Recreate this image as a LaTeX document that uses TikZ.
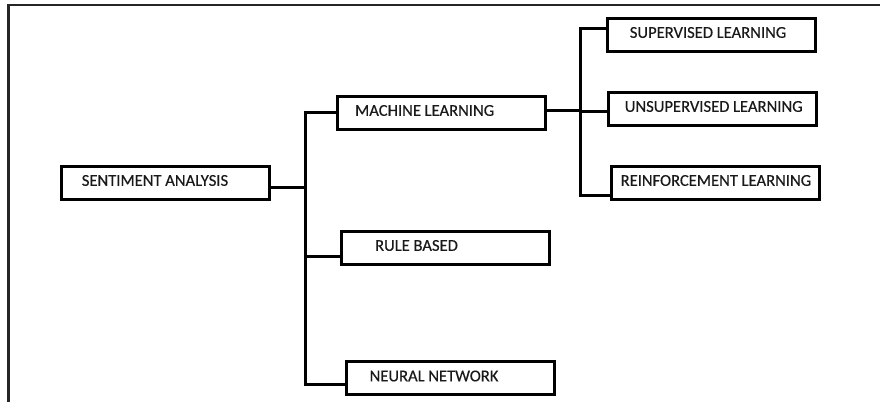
\documentclass[tikz,border=0pt]{standalone}
\usepackage{fontspec}
\setmainfont{Carlito}[FakeBold=0.4]
\usetikzlibrary{positioning,calc}
\newcommand{\boxfont}{\fontsize{11.8}{14}\selectfont\spaceskip=2.6pt\relax}

\begin{document}
\begin{tikzpicture}[
  x=0.025cm, y=-0.025cm,
  box/.style={
    rectangle, draw=black, line width=0.075cm, anchor=north west,
    text width=5.2cm, minimum height=0.83cm, inner xsep=0pt, inner ysep=0pt,
    align=left, text=black!90, text height=8pt, text depth=0.12cm
  },
  link/.style={black, line width=0.075cm},
  frame/.style={black!85, line width=0.06cm},
]
\useasboundingbox (0,0) rectangle (880,402);

% Page frame
\draw[frame] (880,5) -- (8.5,5) -- (8.5,402);

% Root
\node[box] (sa) at (59.5,164.5) {\boxfont\hspace*{0.52cm}SENTIMENT ANALYSIS};

% Approaches
\node[box] (ml) at (336,94.5)  {\boxfont\hspace*{0.44cm}MACHINE LEARNING};
\node[box] (rb) at (340,229.5) {\boxfont\hspace*{0.84cm}RULE BASED};
\node[box] (nn) at (344.5,360) {\boxfont\hspace*{0.59cm}NEURAL NETWORK};

% Learning types
\node[box] (sup) at (605.5,16.5) {\boxfont\hspace*{0.57cm}SUPERVISED LEARNING};
\node[box] (uns) at (606.5,90.5) {\boxfont\hspace*{0.42cm}UNSUPERVISED LEARNING};
\node[box] (rl)  at (609.5,164.5) {\boxfont\hspace*{0.24cm}REINFORCEMENT LEARNING};

% Trunks
\coordinate (lefttrunk)  at (305,186);
\coordinate (righttrunk) at (580,109);

% Links
\draw[link] ([yshift=-0.12cm]sa.east) -| (lefttrunk);
\draw[link] (ml.west) -| (lefttrunk) |- ([yshift=-0.16cm]nn.west);
\draw[link] ([yshift=-0.21cm]rb.west) -| (lefttrunk);

\draw[link] ([yshift=0.05cm]ml.east) -| (righttrunk);
\draw[link] ([yshift=0.16cm]sup.west) -| (righttrunk) |- ([yshift=-0.32cm]rl.west);
\draw[link] ([yshift=-0.06cm]uns.west) -| (righttrunk);

\end{tikzpicture}
\end{document}
